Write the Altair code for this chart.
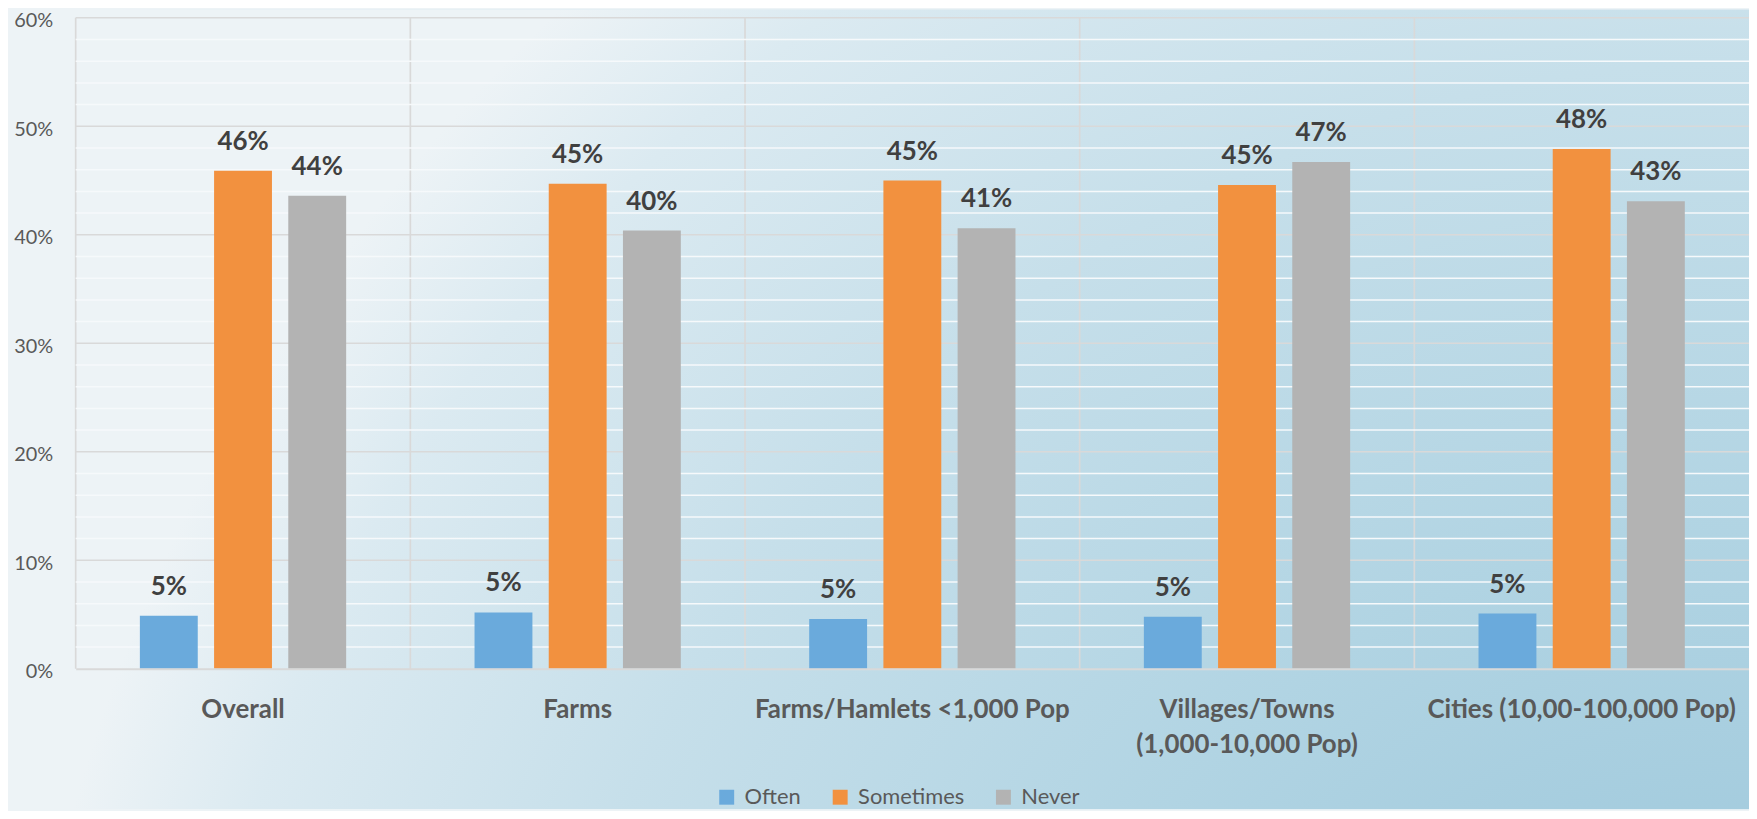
import altair as alt
import pandas as pd

# ---- data ----
categories = [
    "Overall",
    "Farms",
    "Farms/Hamlets <1,000 Pop",
    "Villages/Towns\n(1,000-10,000 Pop)",
    "Cities (10,00-100,000 Pop)",
]
series = ["Often", "Sometimes", "Never"]
often = [4.9, 5.2, 4.6, 4.8, 5.1]
sometimes = [45.9, 44.7, 45.0, 44.6, 47.9]
never = [43.6, 40.4, 40.6, 46.7, 43.1]
colors = ["#6aaadc", "#f2913f", "#b3b3b3"]

y_major = [0, 10, 20, 30, 40, 50, 60]
y_minor = [2, 4, 6, 8, 12, 14, 16, 18, 22, 24, 26, 28, 32, 34, 36, 38,
           42, 44, 46, 48, 52, 54, 56, 58]

rows = []
for i, c in enumerate(categories):
    for s, vals in zip(series, [often, sometimes, never]):
        rows.append({"cat": c, "series": s, "value": vals[i]})
df = pd.DataFrame(rows)

W, H = 1681, 654
PAD = {"left": 68, "top": 8, "right": 0, "bottom": 141}

xscale = alt.Scale(domain=categories, paddingInner=0, paddingOuter=0)
yscale = alt.Scale(domain=[0, 60], nice=False, zero=True)
offscale = alt.Scale(domain=series, paddingInner=0.22, paddingOuter=0.865)

x_axis = alt.Axis(
    labelExpr="split(datum.label, '\\n')",
    labelFont="Lato", labelFontSize=26, labelFontWeight="bold",
    labelColor="#595959", labelPadding=28, labelLineHeight=35,
    labelAngle=0, labelLimit=0, labelOverlap=False,
    ticks=False, tickSize=0, domain=True, domainColor="#d9d9d9",
    domainWidth=2, grid=False, zindex=1, title=None,
)
y_axis = alt.Axis(
    values=y_major, labelExpr="datum.value + '%'",
    labelFont="Lato", labelFontSize=20, labelColor="#595959",
    labelPadding=23, labelOffset=3, ticks=False, tickSize=0,
    domain=False, grid=False, zindex=1, title=None,
)

# background gradient
bg = alt.Chart(pd.DataFrame({"bg": [0]})).mark_rect(
    fill={
        "gradient": "radial",
        "x1": 1, "y1": 1, "r1": 0,
        "x2": 1, "y2": 1, "r2": 1,
        "stops": [
            {"offset": 0.0, "color": "#90bfd6"},
            {"offset": 0.08, "color": "#97c4d9"},
            {"offset": 0.43, "color": "#b1d4e3"},
            {"offset": 0.7, "color": "#c6dfea"},
            {"offset": 0.9, "color": "#dbeaf1"},
            {"offset": 1.0, "color": "#edf3f6"},
        ],
    },
    stroke=None,
).encode(
    x=alt.value(-PAD["left"]),
    x2=alt.value(W + PAD["right"]),
    y=alt.value(-PAD["top"]),
    y2=alt.value(H + PAD["bottom"]),
)

vrules = alt.Chart(pd.DataFrame({"cat": categories})).mark_rule(
    color="#d9d9d9", strokeWidth=1.7
).encode(
    x=alt.X("cat:N", scale=xscale, bandPosition=0, sort=categories,
            axis=x_axis, title=None),
)

minor = alt.Chart(pd.DataFrame({"v": y_minor})).mark_rule(
    color="#f6f9fb", strokeWidth=1.5
).encode(y=alt.Y("v:Q", scale=yscale, axis=y_axis, title=None))

major = alt.Chart(pd.DataFrame({"v": y_major[1:]})).mark_rule(
    color="#d9d9d9", strokeWidth=1.5
).encode(y=alt.Y("v:Q", scale=yscale, axis=y_axis, title=None))

base = alt.Chart(df)

bars = base.mark_bar(strokeWidth=0).encode(
    x=alt.X("cat:N", scale=xscale, sort=categories, title=None, axis=x_axis),
    xOffset=alt.XOffset("series:N", scale=offscale, sort=series),
    y=alt.Y("value:Q", scale=yscale, title=None, axis=y_axis),
    color=alt.Color(
        "series:N",
        scale=alt.Scale(domain=series, range=colors),
        sort=series,
        legend=alt.Legend(
            title=None, orient="none", legendX=643, legendY=772,
            direction="horizontal", columns=3, symbolType="square",
            symbolSize=225, symbolStrokeWidth=0, symbolOpacity=1,
            labelFont="Lato", labelFontSize=22, labelColor="#595959",
            columnPadding=28, labelOffset=7, padding=0, offset=0,
        ),
    ),
)

labels = base.transform_calculate(
    label="format(datum.value, '.0f') + '%'"
).mark_text(
    font="Lato", fontSize=26, fontWeight="bold", color="#404040",
    baseline="alphabetic", dy=-21,
).encode(
    x=alt.X("cat:N", scale=xscale, sort=categories, title=None, axis=x_axis),
    xOffset=alt.XOffset("series:N", scale=offscale, sort=series),
    y=alt.Y("value:Q", scale=yscale, title=None, axis=y_axis),
    text=alt.Text("label:N"),
)

chart = alt.layer(bg, vrules, minor, major, bars, labels).properties(
    width=W, height=H,
    autosize=alt.AutoSizeParams(type="none"),
    padding=PAD,
    background="#edf3f6",
).configure_view(stroke=None)

chart.save("out.html", embed_options={"renderer": "svg", "actions": False})
